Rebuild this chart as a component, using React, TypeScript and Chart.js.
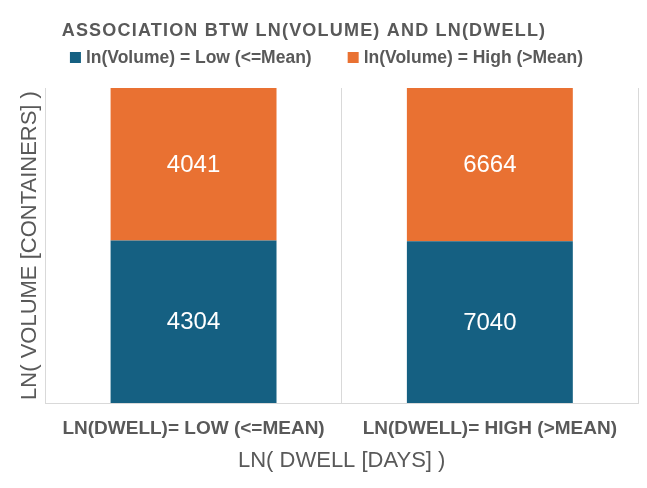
import React, { useEffect, useRef } from "react";
import { Chart, registerables } from "chart.js";

Chart.register(...registerables);

const categories = ["LN(DWELL)= LOW (<=MEAN)", "LN(DWELL)= HIGH (>MEAN)"];
const seriesNames = ["ln(Volume) = Low (<=Mean)", "ln(Volume) = High (>Mean)"];
const volumeLowCounts = [4304, 7040];
const volumeHighCounts = [4041, 6664];
const seriesColors = ["#156082", "#E97132"];
const chartTitle = "ASSOCIATION BTW LN(VOLUME) AND LN(DWELL)";
const xAxisTitle = "LN( DWELL [DAYS] )";
const yAxisTitle = "LN( VOLUME [CONTAINERS] )";

const FONT = "'Liberation Sans', Arial, sans-serif";
const TEXT = "#595959";

const totals = categories.map((_, i) => volumeLowCounts[i] + volumeHighCounts[i]);
const lowShare = volumeLowCounts.map((v, i) => v / totals[i]);
const highShare = volumeHighCounts.map((v, i) => v / totals[i]);
const counts = [volumeLowCounts, volumeHighCounts];

const headerPlugin = {
  id: "header",
  afterDraw(chart: any) {
    const ctx = chart.ctx as CanvasRenderingContext2D;
    ctx.save();
    ctx.fillStyle = TEXT;
    ctx.font = `bold 18px ${FONT}`;
    (ctx as any).letterSpacing = "1.2px";
    ctx.textAlign = "center";
    ctx.textBaseline = "alphabetic";
    ctx.fillText(chartTitle, 304, 35.5);
    (ctx as any).letterSpacing = "0px";

    ctx.font = `bold 17.5px ${FONT}`;
    const box = 11;
    const gap = 5;
    const spacing = 36;
    const items = chart.data.datasets.map((ds: any) => ({
      text: ds.label as string,
      color: ds.backgroundColor as string,
      w: ctx.measureText(ds.label).width,
    }));
    const total =
      items.reduce((s: number, it: any) => s + box + gap + it.w, 0) +
      spacing * (items.length - 1);
    let x = 326.5 - total / 2;
    const cy = 57.5;
    ctx.textAlign = "left";
    ctx.textBaseline = "middle";
    for (const it of items) {
      ctx.fillStyle = it.color;
      ctx.fillRect(x, cy - box / 2, box, box);
      ctx.fillStyle = TEXT;
      ctx.fillText(it.text, x + box + gap, cy + 0.5);
      x += box + gap + it.w + spacing;
    }
    ctx.restore();
  },
};

const valueLabelPlugin = {
  id: "valueLabels",
  afterDatasetsDraw(chart: any) {
    const ctx = chart.ctx as CanvasRenderingContext2D;
    ctx.save();
    ctx.fillStyle = "#ffffff";
    ctx.font = `24px ${FONT}`;
    ctx.textAlign = "center";
    ctx.textBaseline = "middle";
    chart.data.datasets.forEach((_: any, di: number) => {
      const meta = chart.getDatasetMeta(di);
      meta.data.forEach((el: any, i: number) => {
        const y = (el.y + el.base) / 2;
        ctx.fillText(String(counts[di][i]), el.x, y + 1);
      });
    });
    ctx.restore();
  },
};

export default function App() {
  const ref = useRef<HTMLCanvasElement | null>(null);

  useEffect(() => {
    document.body.style.margin = "0";
    const canvas = ref.current;
    if (!canvas) return;
    const chart = new Chart(canvas, {
      type: "bar",
      data: {
        labels: categories,
        datasets: [
          {
            label: seriesNames[0],
            data: lowShare,
            backgroundColor: seriesColors[0],
            barPercentage: 0.56,
            categoryPercentage: 1,
          },
          {
            label: seriesNames[1],
            data: highShare,
            backgroundColor: seriesColors[1],
            barPercentage: 0.56,
            categoryPercentage: 1,
          },
        ],
      },
      options: {
        responsive: false,
        animation: false,
        devicePixelRatio: 1,
        layout: { padding: { top: 88, left: 16, right: 9, bottom: 13.6 } },
        plugins: {
          legend: { display: false },
          title: { display: false },
          tooltip: { enabled: false },
        },
        scales: {
          x: {
            stacked: true,
            grid: { offset: true, color: "#d9d9d9", drawTicks: false, lineWidth: 1 },
            border: { color: "#d9d9d9" },
            ticks: {
              color: TEXT,
              font: { family: FONT, size: 19, weight: "bold" },
              padding: 14.6,
              maxRotation: 0,
            },
            title: {
              display: true,
              text: xAxisTitle,
              color: TEXT,
              font: { family: FONT, size: 22 },
              padding: { top: -7, bottom: 0 },
            },
          },
          y: {
            stacked: true,
            min: 0,
            max: 1,
            grid: { display: false, drawTicks: false },
            border: { display: false },
            ticks: { display: false },
            title: {
              display: true,
              text: yAxisTitle,
              color: TEXT,
              font: { family: FONT, size: 22 },
              padding: { top: 1, bottom: 2 },
            },
          },
        },
      },
      plugins: [headerPlugin, valueLabelPlugin],
    } as any);
    return () => chart.destroy();
  }, []);

  return (
    <div style={{ position: "fixed", left: 0, top: 0, width: 647, height: 488, background: "#fff" }}>
      <canvas ref={ref} width={647} height={488} />
    </div>
  );
}
